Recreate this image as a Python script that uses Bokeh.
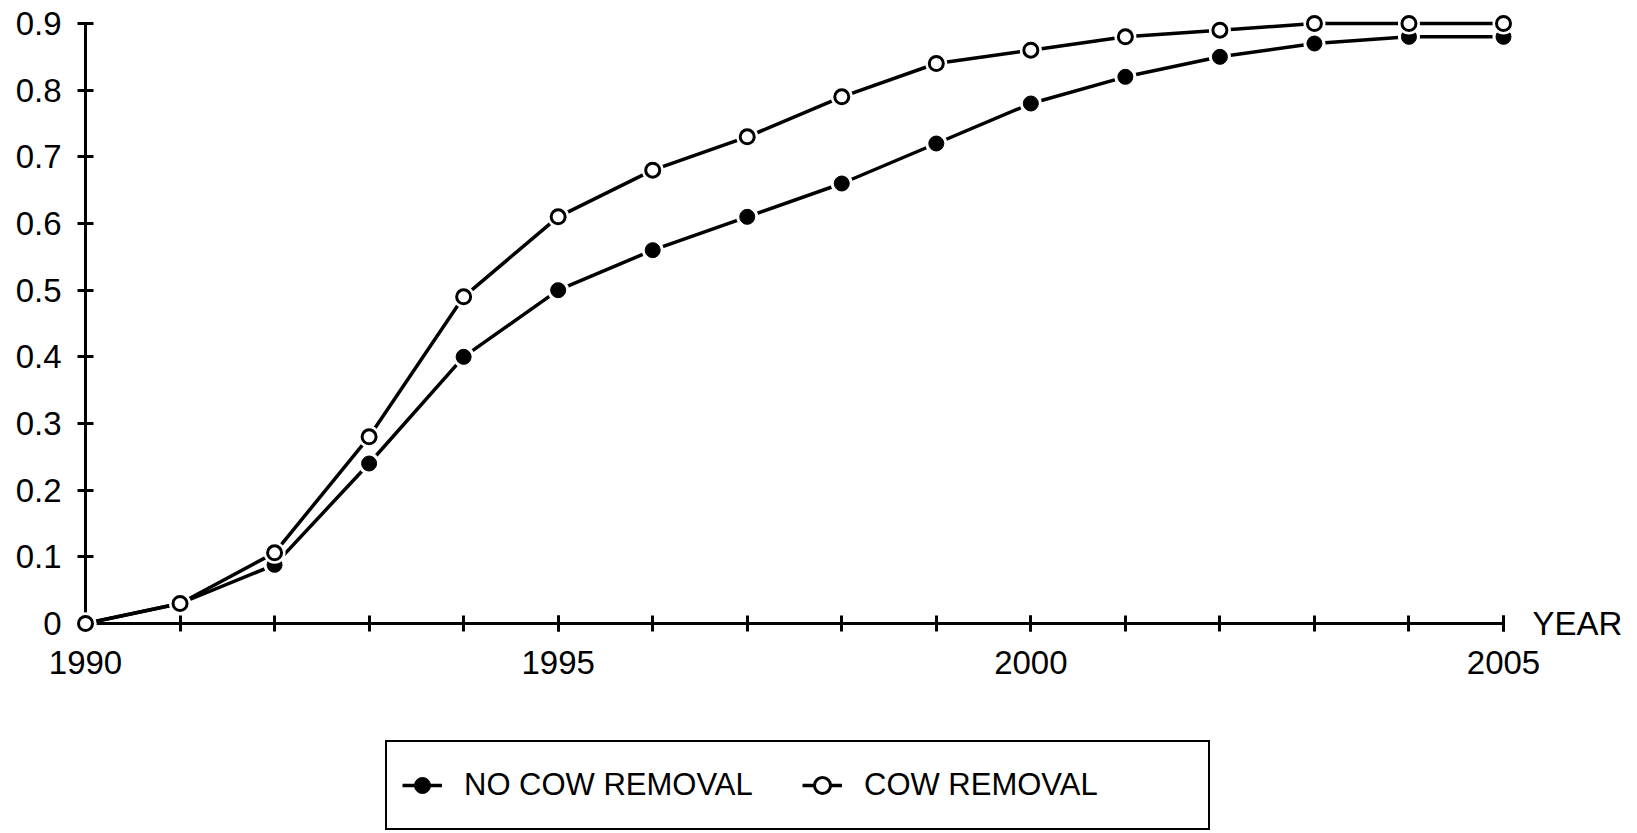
from bokeh.plotting import figure
from bokeh.models import (Range1d, FixedTicker, Legend, LegendItem, LinearAxis)
from bokeh.layouts import column
from bokeh.embed import file_html
from bokeh.resources import INLINE

# ---- data ----
years = [1990, 1991, 1992, 1993, 1994, 1995, 1996, 1997, 1998, 1999,
         2000, 2001, 2002, 2003, 2004, 2005]
no_cow_removal = [0.0, 0.03, 0.088, 0.24, 0.40, 0.50, 0.56, 0.61, 0.66, 0.72,
                  0.78, 0.82, 0.85, 0.87, 0.88, 0.88]
cow_removal = [0.0, 0.03, 0.106, 0.28, 0.49, 0.61, 0.68, 0.73, 0.79, 0.84,
               0.86, 0.88, 0.89, 0.90, 0.90, 0.90]
x_tick_values = [1990, 1995, 2000, 2005]
y_tick_values = [0.0, 0.1, 0.2, 0.3, 0.4, 0.5, 0.6, 0.7, 0.8, 0.9]
y_tick_labels = ["0", "0.1", "0.2", "0.3", "0.4", "0.5", "0.6", "0.7", "0.8", "0.9"]
series_names = ["NO COW REMOVAL", "COW REMOVAL"]
x_axis_title = "YEAR"

FONT = "Liberation Sans"

# ---------------- main chart ----------------
p = figure(frame_width=1418, frame_height=600, output_backend="svg",
           toolbar_location=None,
           x_range=Range1d(years[0], years[-1]),
           y_range=Range1d(y_tick_values[0], y_tick_values[-1]),
           min_border_left=85, min_border_top=23, min_border_right=127,
           min_border_bottom=100)
p.background_fill_color = "white"
p.border_fill_color = "white"
p.outline_line_color = None
p.grid.visible = False

xa = p.xaxis[0]
xa.ticker = FixedTicker(ticks=x_tick_values, minor_ticks=years)
ya = p.yaxis[0]
ya.ticker = FixedTicker(ticks=y_tick_values, minor_ticks=[])
ya.major_label_overrides = {v: s for v, s in zip(y_tick_values, y_tick_labels)}
for ax in (xa, ya):
    ax.axis_line_color = "black"
    ax.axis_line_width = 3
    ax.major_tick_line_color = "black"
    ax.major_tick_line_width = 3
    ax.major_tick_in = 8
    ax.major_tick_out = 8
    ax.minor_tick_line_color = "black"
    ax.minor_tick_line_width = 3
    ax.minor_tick_in = 8
    ax.minor_tick_out = 8
    ax.major_label_text_font = FONT
    ax.major_label_text_font_size = "33px"
    ax.major_label_text_color = "black"
xa.major_label_standoff = 19
ya.major_label_standoff = 16

# "YEAR" written at the right end of the x axis, as a label-only right axis
ra = LinearAxis(ticker=FixedTicker(ticks=[y_tick_values[0]], minor_ticks=[]),
                major_label_overrides={y_tick_values[0]: x_axis_title})
ra.axis_line_color = None
ra.major_tick_line_color = None
ra.major_tick_in = 0
ra.major_tick_out = 0
ra.minor_tick_line_color = None
ra.major_label_standoff = 29
ra.major_label_text_font = FONT
ra.major_label_text_font_size = "33px"
ra.major_label_text_color = "black"
p.add_layout(ra, "right")


def draw_series(fig, xs, ys, filled, level="overlay"):
    ln = fig.line(xs, ys, line_color="black", line_width=3.5, level=level)
    halo = fig.scatter(xs, ys, size=22, fill_color="white", line_color=None,
                       level=level)
    if filled:
        mk = fig.scatter(xs, ys, size=15, fill_color="black", line_color="black",
                         line_width=1, level=level)
    else:
        mk = fig.scatter(xs, ys, size=14, fill_color="white", line_color="black",
                         line_width=3, level=level)
    return [ln, halo, mk]


draw_series(p, years, no_cow_removal, True)
draw_series(p, years, cow_removal, False)

# ---------------- legend strip below the chart ----------------
# same series drawn in a strip whose view range excludes them (clipped, glyph level),
# so that only the legend entries are visible there
p2 = figure(width=1630, height=110, output_backend="svg", toolbar_location=None,
            x_range=Range1d(0, 1), y_range=Range1d(0, 1),
            x_axis_location=None, y_axis_location=None,
            min_border_left=0, min_border_right=0, min_border_top=0,
            min_border_bottom=0)
p2.background_fill_color = "white"
p2.border_fill_color = "white"
p2.outline_line_color = None
p2.grid.visible = False

r1 = draw_series(p2, years, no_cow_removal, True, level="glyph")
r2 = draw_series(p2, years, cow_removal, False, level="glyph")

legend = Legend(items=[LegendItem(label=series_names[0], renderers=r1),
                       LegendItem(label=series_names[1], renderers=r2)],
                orientation="horizontal", location=(300, 3), margin=0,
                padding=15, spacing=9, glyph_width=40, glyph_height=56,
                label_standoff=22, label_width=329, label_height=56,
                label_text_font=FONT, label_text_font_size="31px",
                label_text_color="black",
                border_line_color="black", border_line_width=2.5,
                border_line_alpha=1.0,
                background_fill_color="white", background_fill_alpha=1.0)
p2.add_layout(legend, "center")

layout = column(p, p2, spacing=0)
open("out.html", "w").write(file_html(layout, INLINE))
